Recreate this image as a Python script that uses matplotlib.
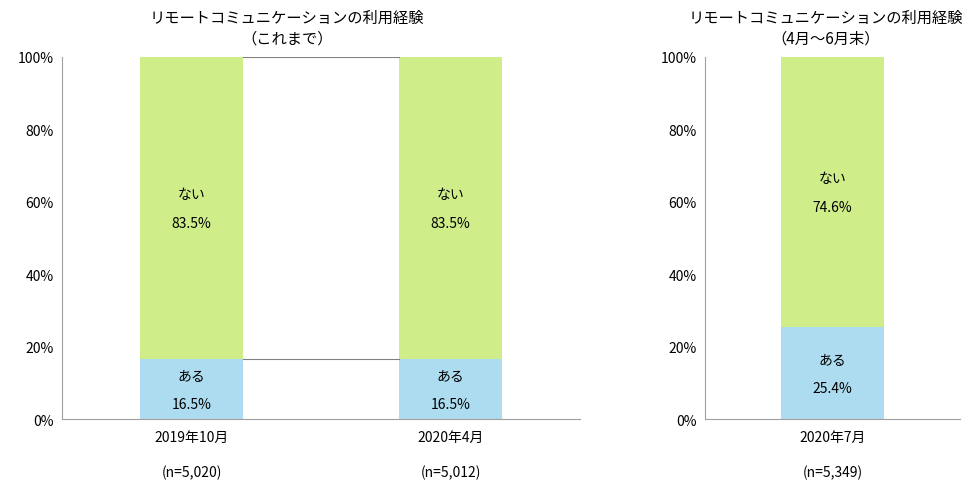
import matplotlib
matplotlib.use("Agg")
import matplotlib.pyplot as plt

plt.rcParams["font.family"] = "Noto Sans CJK JP"

left_cats = ["2019年10月", "2020年4月"]
left_n = ["(n=5,020)", "(n=5,012)"]
left_aru = [16.5, 16.5]
left_nai = [83.5, 83.5]
right_cats = ["2020年7月"]
right_n = ["(n=5,349)"]
right_aru = [25.4]
right_nai = [74.6]
yticks = [0, 20, 40, 60, 80, 100]

GREEN = "#CFEE8A"
BLUE = "#ADDCF0"

fig = plt.figure(figsize=(9.76, 4.81), dpi=100)

def panel(ax, cats, ns, aru, nai, width, connect):
    x = list(range(len(cats)))
    ax.bar(x, aru, width=width, color=BLUE)
    ax.bar(x, nai, bottom=aru, width=width, color=GREEN)
    for i in x:
        ax.text(i, aru[i] * 0.5 + 4, "ある", ha="center", va="center", fontsize=10)
        ax.text(i, aru[i] * 0.5 - 4, f"{aru[i]:.1f}%", ha="center", va="center", fontsize=10)
        mid = aru[i] + nai[i] / 2
        ax.text(i, mid + 4, "ない", ha="center", va="center", fontsize=10)
        ax.text(i, mid - 4, f"{nai[i]:.1f}%", ha="center", va="center", fontsize=10)
    if connect:
        for i in range(len(x) - 1):
            ax.plot([x[i] + width / 2, x[i + 1] - width / 2], [aru[i], aru[i + 1]], color="#808080", lw=0.8)
            ax.plot([x[i] + width / 2, x[i + 1] - width / 2], [aru[i] + nai[i], aru[i + 1] + nai[i + 1]], color="#808080", lw=0.8)
    ax.set_xlim(-0.5, len(cats) - 0.5)
    ax.set_ylim(0, 100)
    ax.set_yticks(yticks)
    ax.set_yticklabels([f"{t}%" for t in yticks], fontsize=10)
    ax.set_xticks(x)
    ax.set_xticklabels([f"{c}\n\n{n}" for c, n in zip(cats, ns)], fontsize=10, linespacing=1.3)
    ax.tick_params(axis="x", length=0, pad=8)
    ax.tick_params(axis="y", length=0, pad=6)
    for s in ("top", "right"):
        ax.spines[s].set_visible(False)
    for s in ("left", "bottom"):
        ax.spines[s].set_color("#A0A0A0")

ax1 = fig.add_axes([62 / 976, 1 - 420 / 481, 518 / 976, 362 / 481])
panel(ax1, left_cats, left_n, left_aru, left_nai, 0.4, True)
ax2 = fig.add_axes([705 / 976, 1 - 420 / 481, 255 / 976, 362 / 481])
panel(ax2, right_cats, right_n, right_aru, right_nai, 0.404, False)

fig.text(287 / 976, 1 - 29 / 481, "リモートコミュニケーションの利用経験\n（これまで）",
         ha="center", va="center", fontsize=11, linespacing=1.3)
fig.text(826 / 976, 1 - 29 / 481, "リモートコミュニケーションの利用経験\n（4月〜6月末）",
         ha="center", va="center", fontsize=11, linespacing=1.3)

fig.savefig("out.png", dpi=100)
